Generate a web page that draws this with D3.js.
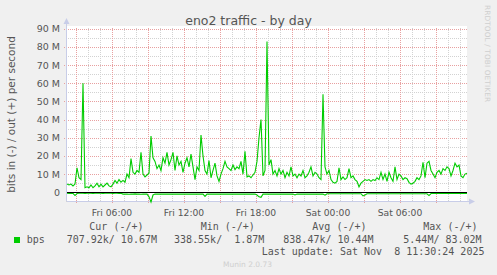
<!DOCTYPE html>
<html><head><meta charset="utf-8">
<script src="https://cdn.jsdelivr.net/npm/d3@7"></script>
<style>
html,body{margin:0;padding:0;background:#f0f0f0;}
svg{display:block;}
text{font-family:"DejaVu Sans",sans-serif;}
.mono{font-family:"DejaVu Sans Mono",monospace;white-space:pre;}
</style></head>
<body>
<script>
// ---- data (values in M bits/s), sampled every 10 minutes starting Fri 02:15 ----
const startHour = 2.25;
const stepHour = 1/6;
const outValues = [
 4.5,4,4.5,3.5,4.5,13.5,8,7,60,2.5,
 3,2.5,4,2.5,3.5,5,3,4.5,3,4,
 5,3.5,3,4.5,6.5,5,7,5.5,6.5,5.5,
 10,8,18.5,11,10,12,11,22,10,8.5,
 9.5,10.5,31,19,17,13,15,12,19,16,
 22,15,18,22,12,20,15,17,11,16,
 19,14,21,14,7,14,12,31.5,20,12,
 10,17.5,8,12,16,9,6,10,13,17,
 14,13,12,15,12.5,14,13,17,10,22.5,
 8.5,9,8,9.5,11,17,30,40,9,12,
 83,15,18,10,12,9,13,10,12,8,
 11,9,14,9,10,8,10,9,12,8,
 9,11,14,9,11,10,8,7,54,14,
 10,12,7,5.5,5,6,13.5,7,8.5,7,
 8,13,8,9,7,6,3,5,6,7,
 6.5,7,6,7,6.5,8,7,11,7,10,
 6,11,8,6,14,7,10,9,7,8,
 7.5,5.5,4.5,5,6,8,7,9,16.5,8,
 16,17,12,10,8,11,12,10,13,12,
 14,13,9,12,16,14,15,9,8,10,
 10.5
];
const inValues = [
 0.5,0.6,0.5,0.6,1.8,0.7,0.5,0.4,0.5,0.6,
 0.5,0.4,0.5,0.6,0.5,0.5,0.4,0.5,0.6,0.5,
 0.5,0.4,0.5,0.6,0.5,0.5,0.6,0.5,1.0,1.0,
 1.0,1.1,1.0,1.0,0.9,1.0,1.0,1.1,1.0,1.0,
 1.0,2.5,5.4,1.5,1.0,1.0,1.0,1.0,1.0,1.0,
 1.0,1.0,1.0,1.0,1.0,1.0,1.0,1.0,1.0,1.0,
 1.0,1.0,1.0,1.0,1.0,1.0,1.0,1.0,1.0,2.3,
 1.0,1.0,1.0,1.0,1.0,1.0,1.0,1.0,1.0,1.0,
 1.0,1.0,1.0,1.0,1.0,1.0,1.0,1.0,1.0,1.0,
 1.0,1.0,1.0,1.0,1.0,1.5,2.5,2.8,1.0,1.0,
 1.0,1.0,1.0,1.0,1.0,1.0,1.0,1.0,1.0,1.0,
 1.0,1.0,1.0,1.0,1.5,1.0,1.0,1.0,1.0,1.0,
 1.0,1.0,1.0,1.0,1.0,1.0,1.0,1.0,1.0,1.6,
 0.8,0.8,0.8,0.8,0.8,0.8,0.8,0.8,0.8,0.8,
 0.8,0.8,0.8,0.8,0.8,0.8,0.8,0.8,2.0,1.5,
 0.8,0.8,0.8,0.8,0.8,0.8,0.8,0.8,0.8,0.8,
 0.8,0.8,0.8,0.8,0.8,0.8,0.8,0.8,0.8,0.8,
 0.8,0.8,0.8,0.8,0.8,0.8,0.8,0.8,0.8,0.8,
 0.8,1.8,0.7,0.7,0.7,0.7,0.7,0.7,0.7,0.7,
 0.7,0.7,0.7,0.7,0.7,0.7,0.7,0.7,0.7,0.7,
 0.7
];
const yTickValues = [0,10,20,30,40,50,60,70,80,90];
const yTickLabels = ["0","10 M","20 M","30 M","40 M","50 M","60 M","70 M","80 M","90 M"];
const xTickHours = [6,12,18,24,30];
const xTickLabels = ["Fri 06:00","Fri 12:00","Fri 18:00","Sat 00:00","Sat 06:00"];
const legendHeaders = ["Cur (-/+)","Min (-/+)","Avg (-/+)","Max (-/+)"];
const legendValues = ["707.92k/ 10.67M","338.55k/  1.87M","838.47k/ 10.44M","5.44M/ 83.02M"];

// ---- layout ----
const W = 497, H = 275;
const L = 67, R = 467, T = 26, B = 201;
const svg = d3.select("body").append("svg").attr("width", W).attr("height", H);
svg.append("rect").attr("width", W).attr("height", H).attr("fill", "#f0f0f0");

const x = d3.scaleLinear().domain([startHour, startHour + 2000/60]).range([L, R]);
const y = d3.scaleLinear().domain([-4.8, 91.5]).range([B, T]);

svg.append("rect").attr("x", L).attr("y", T).attr("width", R - L).attr("height", B - T).attr("fill", "#fff");

// grid
const g = svg.append("g");
d3.range(-5, 91, 5).forEach(v => {
  if (v === 0) return;
  const major = v % 10 === 0;
  g.append("line").attr("x1", major ? L - 3 : L - 1).attr("x2", R).attr("y1", Math.round(y(v)) + 0.5).attr("y2", Math.round(y(v)) + 0.5)
    .attr("stroke", major ? "#e8a0a0" : "#d2d2d2").attr("stroke-dasharray", "1,1");
});
d3.range(3, 36, 1).forEach(h => {
  const major = h % 3 === 0;
  const xx = Math.round(x(h)) + 0.5;
  g.append("line").attr("x1", xx).attr("x2", xx).attr("y1", T + 2).attr("y2", B + (major ? 3 : 1))
    .attr("stroke", major ? "#e8a0a0" : "#d2d2d2").attr("stroke-dasharray", "1,1");
});

// axes
const axisCol = "#c8cde8";
svg.append("line").attr("x1", L - 0.5).attr("x2", L - 0.5).attr("y1", B).attr("y2", T - 3).attr("stroke", axisCol);
svg.append("path").attr("d", `M${L-3.5},${T-2} L${L-0.5},${T-8} L${L+2.5},${T-2} Z`).attr("fill", axisCol);
svg.append("line").attr("x1", L).attr("x2", R + 3).attr("y1", B + 0.5).attr("y2", B + 0.5).attr("stroke", axisCol);
svg.append("path").attr("d", `M${R+2},${B-2.5} L${R+8},${B+0.5} L${R+2},${B+3.5} Z`).attr("fill", axisCol);

// data lines
const lineOut = d3.line().x((d, i) => x(startHour + i * stepHour)).y(d => y(d));
const lineIn = d3.line().x((d, i) => x(startHour + i * stepHour)).y(d => y(-d));
svg.append("path").attr("d", lineIn(inValues)).attr("fill", "none").attr("stroke", "#00cc00").attr("stroke-width", 1.1);
svg.append("path").attr("d", lineOut(outValues)).attr("fill", "none").attr("stroke", "#00cc00").attr("stroke-width", 1.1);
// zero line
svg.append("line").attr("x1", L).attr("x2", R).attr("y1", Math.round(y(0)) + 0.5).attr("y2", Math.round(y(0)) + 0.5).attr("stroke", "#000");

// tick labels
const txtCol = "#555";
yTickValues.forEach((v, i) => {
  svg.append("text").attr("x", 60).attr("y", y(v) + 3.5).attr("text-anchor", "end")
    .attr("font-size", 9.5).attr("fill", txtCol).text(yTickLabels[i]);
});
xTickHours.forEach((h, i) => {
  svg.append("text").attr("x", x(h)).attr("y", 216).attr("text-anchor", "middle")
    .attr("font-size", 9.2).attr("fill", txtCol).text(xTickLabels[i]);
});

// title & axis label
svg.append("text").attr("x", 248.5).attr("y", 24.5).attr("text-anchor", "middle").attr("font-size", 12.5).attr("fill", txtCol).text("eno2 traffic - by day");
svg.append("text").attr("transform", "translate(14.5,114.5) rotate(-90)").attr("text-anchor", "middle").attr("font-size", 10.5).attr("fill", txtCol).text("bits in (-) / out (+) per second");
svg.append("text").attr("transform", "translate(484.5,5) rotate(90)").attr("text-anchor", "start").attr("font-size", 7.3).attr("fill", "#cfcfcf").attr("textLength", 97).text("RRDTOOL / TOBI OETIKER");

// legend
const hx = [89.3, 200.7, 312.3, 423.3];
legendHeaders.forEach((t, i) => {
  svg.append("text").attr("class", "mono").attr("x", hx[i]).attr("y", 230).attr("font-size", 10).attr("fill", txtCol).text(t);
});
svg.append("rect").attr("x", 14).attr("y", 237).attr("width", 6).attr("height", 6).attr("fill", "#00cc00");
svg.append("text").attr("class", "mono").attr("x", 26.7).attr("y", 243).attr("font-size", 10).attr("fill", txtCol).text("bps");
const vx = [66.7, 174, 283.3, 403.3];
legendValues.forEach((t, i) => {
  svg.append("text").attr("class", "mono").attr("x", vx[i]).attr("y", 243).attr("font-size", 10).attr("fill", txtCol).text(t);
});
svg.append("text").attr("class", "mono").attr("x", 261.7).attr("y", 255).attr("font-size", 10).attr("fill", txtCol).text("Last update: Sat Nov  8 11:30:24 2025");
svg.append("text").attr("x", 247.5).attr("y", 266.5).attr("text-anchor", "middle").attr("font-size", 7.5).attr("fill", "#cfcfcf").text("Munin 2.0.73");
</script>
</body></html>
